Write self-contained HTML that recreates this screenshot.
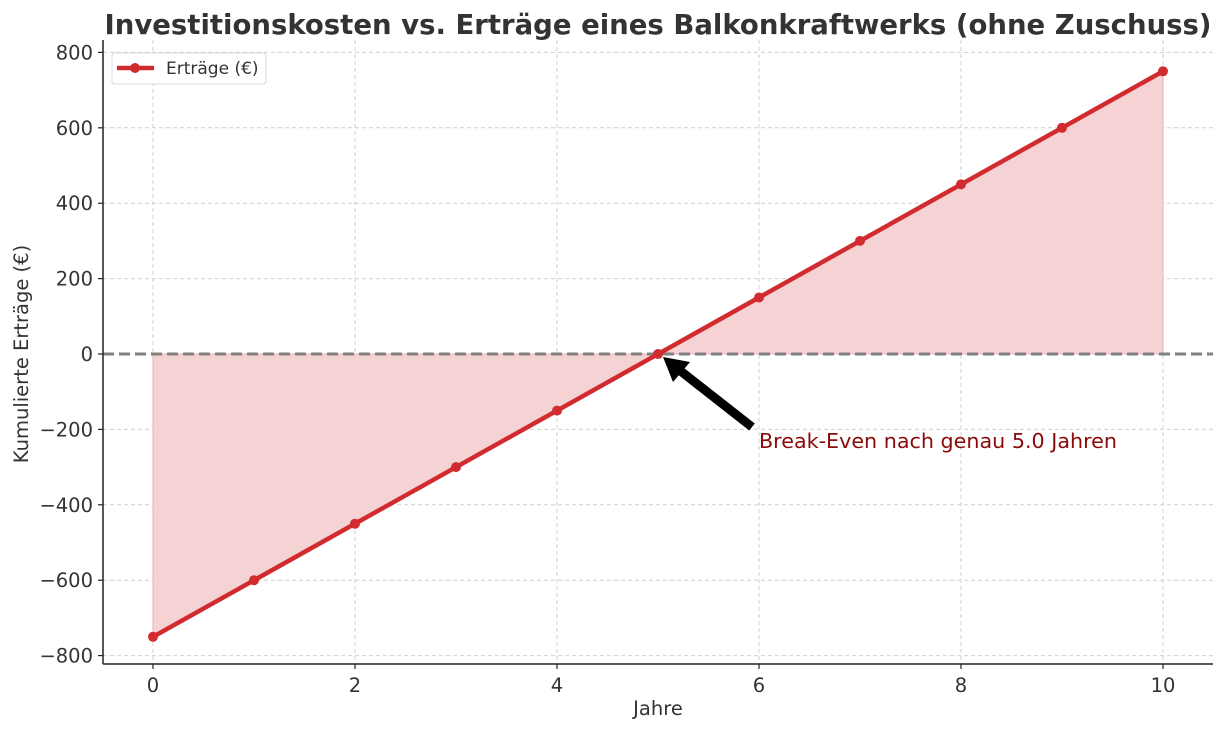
<!DOCTYPE html>
<html><head><meta charset="utf-8"><style>body{margin:0;background:#fff}svg{display:block}</style></head><body>
<svg width="1226" height="731" xmlns="http://www.w3.org/2000/svg" font-family="DejaVu Sans, Liberation Sans, sans-serif">
<rect width="1226" height="731" fill="#fff"/>
<g stroke="#d0d0d0" stroke-width="1" stroke-dasharray="4,3">
<line x1="153" y1="40" x2="153" y2="664"/><line x1="355" y1="40" x2="355" y2="664"/><line x1="557" y1="40" x2="557" y2="664"/><line x1="759" y1="40" x2="759" y2="664"/><line x1="961" y1="40" x2="961" y2="664"/><line x1="1163" y1="40" x2="1163" y2="664"/>
<line x1="103" y1="52.4" x2="1213" y2="52.4"/><line x1="103" y1="127.8" x2="1213" y2="127.8"/><line x1="103" y1="203.2" x2="1213" y2="203.2"/><line x1="103" y1="278.6" x2="1213" y2="278.6"/><line x1="103" y1="429.4" x2="1213" y2="429.4"/><line x1="103" y1="504.8" x2="1213" y2="504.8"/><line x1="103" y1="580.2" x2="1213" y2="580.2"/><line x1="103" y1="655.6" x2="1213" y2="655.6"/>
</g>
<polygon points="153,354 153,636.8 658,354 1163,71.3 1163,354" fill="#f5d3d5" stroke="#e8b0b3" stroke-width="1"/>
<line x1="103" y1="354" x2="1213" y2="354" stroke="#808080" stroke-width="3" stroke-dasharray="11,5"/>
<polyline points="153,636.8 1163,71.3" stroke="#d12b2f" stroke-width="4.5" fill="none"/>
<g fill="#d12b2f">
<circle cx="153" cy="636.8" r="5"/><circle cx="254" cy="580.2" r="5"/><circle cx="355" cy="523.7" r="5"/><circle cx="456" cy="467.1" r="5"/><circle cx="557" cy="410.6" r="5"/><circle cx="658" cy="354" r="5"/><circle cx="759" cy="297.5" r="5"/><circle cx="860" cy="240.9" r="5"/><circle cx="961" cy="184.4" r="5"/><circle cx="1062" cy="127.8" r="5"/><circle cx="1163" cy="71.3" r="5"/>
</g>
<line x1="752" y1="427" x2="678" y2="369" stroke="#000" stroke-width="9"/>
<polygon points="663,357 690,362 673,382" fill="#000"/>
<text x="759" y="448" font-size="20.7" fill="#8b0a0a" textLength="358" lengthAdjust="spacingAndGlyphs">Break-Even nach genau 5.0 Jahren</text>
<line x1="103" y1="40" x2="103" y2="664" stroke="#222" stroke-width="1.5"/>
<line x1="103" y1="664" x2="1213" y2="664" stroke="#222" stroke-width="1.5"/>
<g stroke="#222" stroke-width="1.2">
<line x1="153" y1="664" x2="153" y2="669"/><line x1="355" y1="664" x2="355" y2="669"/><line x1="557" y1="664" x2="557" y2="669"/><line x1="759" y1="664" x2="759" y2="669"/><line x1="961" y1="664" x2="961" y2="669"/><line x1="1163" y1="664" x2="1163" y2="669"/>
<line x1="98" y1="52.4" x2="103" y2="52.4"/><line x1="98" y1="127.8" x2="103" y2="127.8"/><line x1="98" y1="203.2" x2="103" y2="203.2"/><line x1="98" y1="278.6" x2="103" y2="278.6"/><line x1="98" y1="354" x2="103" y2="354"/><line x1="98" y1="429.4" x2="103" y2="429.4"/><line x1="98" y1="504.8" x2="103" y2="504.8"/><line x1="98" y1="580.2" x2="103" y2="580.2"/><line x1="98" y1="655.6" x2="103" y2="655.6"/>
</g>
<g font-size="19.5" fill="#333" text-anchor="middle">
<text x="153" y="692">0</text><text x="355" y="692">2</text><text x="557" y="692">4</text><text x="759" y="692">6</text><text x="961" y="692">8</text><text x="1163" y="692">10</text>
</g>
<g font-size="19.5" fill="#333" text-anchor="end">
<text x="93" y="59.4">800</text><text x="93" y="134.8">600</text><text x="93" y="210.2">400</text><text x="93" y="285.6">200</text><text x="93" y="361">0</text><text x="93" y="436.4">−200</text><text x="93" y="511.8">−400</text><text x="93" y="587.2">−600</text><text x="93" y="662.6">−800</text>
</g>
<text x="658" y="715" font-size="19.5" fill="#333" text-anchor="middle">Jahre</text>
<text transform="translate(28,354) rotate(-90)" font-size="19.5" fill="#333" text-anchor="middle">Kumulierte Erträge (€)</text>
<text x="658" y="34" font-size="27.5" font-weight="bold" fill="#333" text-anchor="middle" textLength="1107" lengthAdjust="spacingAndGlyphs">Investitionskosten vs. Erträge eines Balkonkraftwerks (ohne Zuschuss)</text>
<rect x="112" y="53" width="154" height="31" rx="3" fill="#fff" stroke="#d8d8d8"/>
<line x1="117" y1="68" x2="154" y2="68" stroke="#d12b2f" stroke-width="4.5"/>
<circle cx="135" cy="68" r="5" fill="#d12b2f"/>
<text x="166" y="74" font-size="17" fill="#333">Erträge (€)</text>
</svg>
</body></html>
